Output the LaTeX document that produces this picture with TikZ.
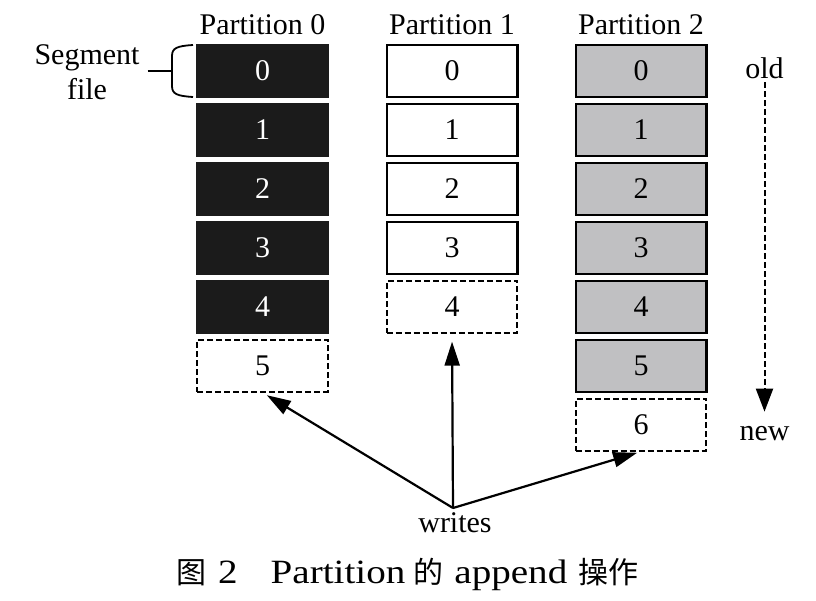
\documentclass[tikz,border=0pt]{standalone}
\usepackage{fontspec}
\setmainfont{Liberation Serif}
\newfontfamily\capfont[FakeStretch=1.15]{Liberation Serif}
\newfontfamily\cjk{Noto Sans CJK SC}
\newcommand{\cjktext}[1]{{\cjk\fontsize{30}{30}\selectfont #1}}
\usetikzlibrary{positioning,arrows.meta}
\definecolor{segdark}{RGB}{27,27,27}
\definecolor{seglight}{RGB}{192,192,194}
\tikzset{
	inner sep=0pt,node distance=5pt,
	font=\fontsize{30}{35}\selectfont,
	seg/.style={rectangle,minimum width=130.6pt,minimum height=51.6pt,line width=2.4pt},
	blackseg/.style={seg,draw=segdark,fill=segdark,text=white},
	whiteseg/.style={seg,draw=black,fill=white},
	grayseg/.style={seg,draw=black,fill=seglight},
	openseg/.style={seg,draw=black,fill=white,line width=2pt,dash pattern=on 6pt off 3pt},
	plabel/.style={anchor=base},
	post/.style={-{Triangle[length=24pt,width=15pt]},line width=2.2pt},
	timeline/.style={-{Triangle[length=23pt,width=17pt]},line width=2pt,dash pattern=on 6pt off 3pt},
	brace/.style={line width=1.8pt}
}
\begin{document}
\begin{tikzpicture}[x=1pt,y=-1pt]
\useasboundingbox (0,0) rectangle (816,601);
% partition 0
\node[plabel] (lab0) at (262.5,35) {Partition 0};
\node[blackseg] (p0s0) at (262.5,71) {0};
\node[blackseg] (p0s1) [below=of p0s0] {1};
\node[blackseg] (p0s2) [below=of p0s1] {2};
\node[blackseg] (p0s3) [below=of p0s2] {3};
\node[blackseg] (p0s4) [below=of p0s3] {4};
\node[openseg] (p0s5) [below=of p0s4] {5};
% partition 1
\node[plabel] (lab1) at (452,35) {Partition 1};
\node[whiteseg] (p1s0) at (452,71) {0};
\node[whiteseg] (p1s1) [below=of p1s0] {1};
\node[whiteseg] (p1s2) [below=of p1s1] {2};
\node[whiteseg] (p1s3) [below=of p1s2] {3};
\node[openseg] (p1s4) [below=of p1s3] {4};
% partition 2
\node[plabel] (lab2) at (641,35) {Partition 2};
\node[grayseg] (p2s0) at (641,71) {0};
\node[grayseg] (p2s1) [below=of p2s0] {1};
\node[grayseg] (p2s2) [below=of p2s1] {2};
\node[grayseg] (p2s3) [below=of p2s2] {3};
\node[grayseg] (p2s4) [below=of p2s3] {4};
\node[grayseg] (p2s5) [below=of p2s4] {5};
\node[openseg] (p2s6) [below=of p2s5] {6};
% segment file
\node[align=center] (segfile) at (87,72.5) {Segment\\file};
\coordinate (bracemid) at (172,71);
\draw[brace] (193,45) .. controls (177,46) and (172,48) .. (172,56) -- (172,86)
   .. controls (172,94) and (177,96) .. (193,97);
\draw[brace,shorten <=8pt] (segfile.east |- bracemid) -- (bracemid);
% old -> new
\node[plabel] (old) at (764.5,79) {old};
\node[plabel] (new) at (764.5,440) {new};
\draw[timeline,shorten <=3pt,shorten >=14pt] (old.south) -- (new.north);
% writes
\node[plabel] (writes) at (455,532) {writes};
\coordinate (wr) at (453,508);
\draw[post,shorten >=5pt] (wr) -- (p0s5.south);
\draw[post,shorten >=8pt] (wr) -- (p1s4.south);
\draw[post,shorten >=4pt] (wr) -- (p2s6.south);
% caption
\node[anchor=base west] (caption) at (176,583) {\capfont\fontsize{34}{34}\selectfont
   \cjktext{图}\hspace{12pt}2\hspace{33pt}Partition\hspace{8pt}\cjktext{的}\hspace{11pt}append\hspace{11pt}\cjktext{操作}};
\end{tikzpicture}
\end{document}
